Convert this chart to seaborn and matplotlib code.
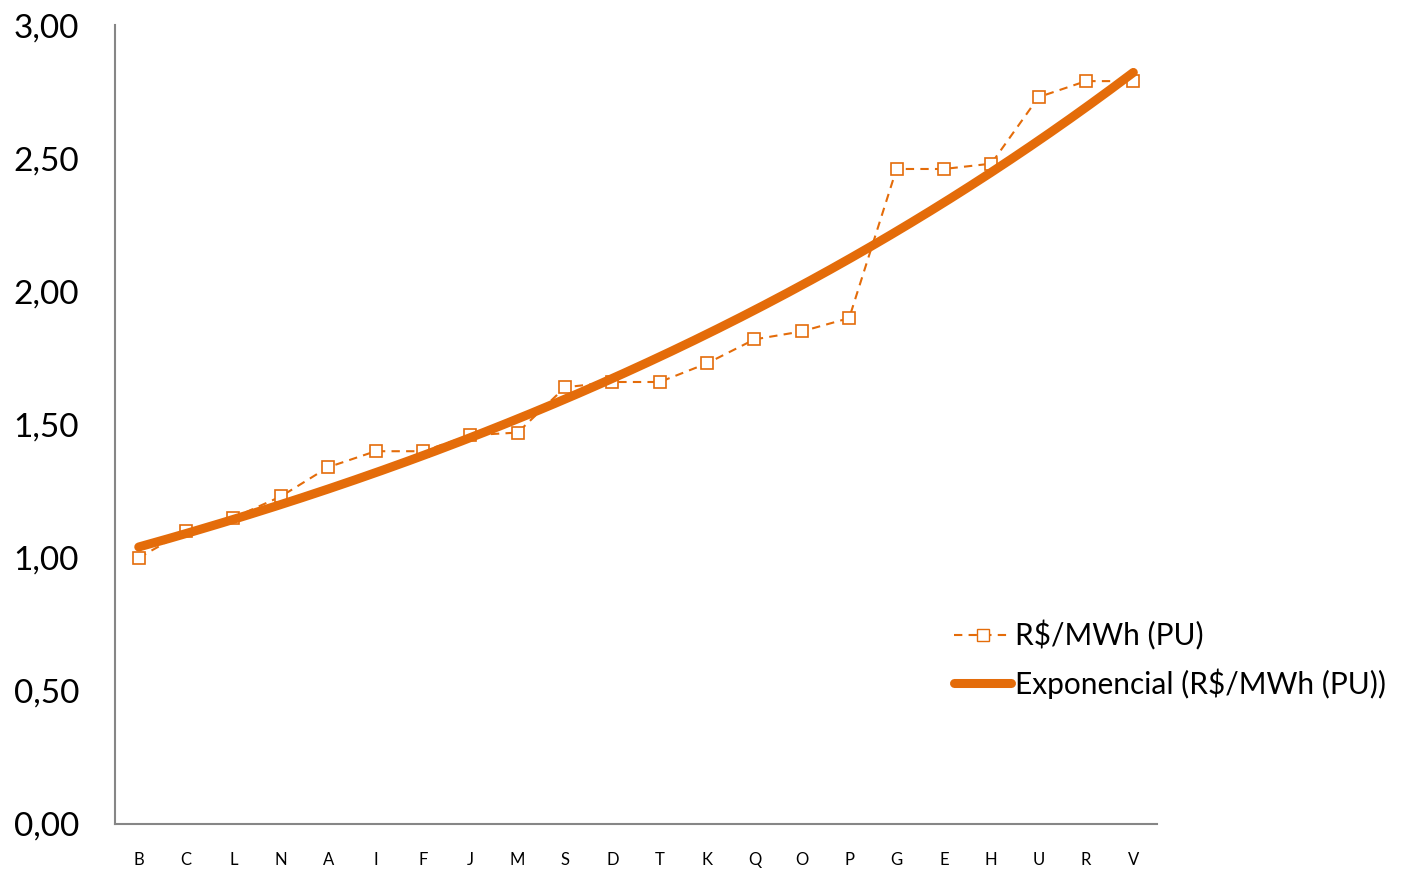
import numpy as np
import pandas as pd
import matplotlib
matplotlib.use("Agg")
import matplotlib.pyplot as plt
import seaborn as sns
from matplotlib.lines import Line2D
from matplotlib.ticker import FuncFormatter

# Data
categories = ["B", "C", "L", "N", "A", "I", "F", "J", "M", "S", "D",
              "T", "K", "Q", "O", "P", "G", "E", "H", "U", "R", "V"]
values = [1.00, 1.10, 1.15, 1.23, 1.34, 1.40, 1.40, 1.46, 1.47, 1.64, 1.66,
          1.66, 1.73, 1.82, 1.85, 1.90, 2.46, 2.46, 2.48, 2.73, 2.79, 2.79]
series_label = "R$/MWh (PU)"
trend_label = "Exponencial (R$/MWh (PU))"

ORANGE = "#E46C0A"
GRAY = "#868686"

sns.set_style("white")
plt.rcParams["font.family"] = ["Lato", "DejaVu Sans"]
plt.rcParams["text.color"] = "black"
plt.rcParams["xtick.color"] = "black"
plt.rcParams["ytick.color"] = "black"

df = pd.DataFrame({"pos": np.arange(len(categories)), "cat": categories, "val": values})

# exponential trendline, fitted like Excel (least squares on ln y, x = 1..n)
xk = np.arange(1, len(values) + 1)
b, ln_a = np.polyfit(xk, np.log(values), 1)
xs = np.linspace(1, len(values), 300)
trend = pd.DataFrame({"pos": xs - 1, "val": np.exp(ln_a) * np.exp(b * xs)})

fig = plt.figure(figsize=(14.05, 8.69), dpi=100)
ax = fig.add_axes([0.0819, 0.0518, 0.7416, 0.9192])

sns.lineplot(data=df, x="pos", y="val", ax=ax, color=ORANGE, lw=1.5,
             linestyle=(0, (4, 3)), marker="s", markersize=8,
             markerfacecolor="white", markeredgecolor=ORANGE, markeredgewidth=1.2,
             zorder=2)
sns.lineplot(data=trend, x="pos", y="val", ax=ax, color=ORANGE, lw=6.5,
             solid_capstyle="round", zorder=3)

ax.set_xlim(-0.5, len(categories) - 0.5)
ax.set_ylim(0, 3)
ax.set_yticks(np.arange(0, 3.01, 0.5))
ax.yaxis.set_major_formatter(FuncFormatter(lambda v, p: f"{v:.2f}".replace(".", ",")))
ax.set_xticks(np.arange(-0.5, len(categories), 1.0))
ax.set_xticklabels([])
ax.set_xticks(np.arange(len(categories)), minor=True)
ax.set_xticklabels(categories, minor=True)
ax.tick_params(axis="x", which="minor", length=0, pad=20, labelsize=12)
ax.tick_params(axis="x", which="major", length=6, width=1.2, color=GRAY, direction="out")
ax.tick_params(axis="y", length=8, width=1.2, color=GRAY, direction="out",
               labelsize=24, pad=18)
ax.set_xlabel("")
ax.set_ylabel("")

for s in ["top", "right"]:
    ax.spines[s].set_visible(False)
for s in ["left", "bottom"]:
    ax.spines[s].set_color(GRAY)
    ax.spines[s].set_linewidth(1.5)

handles = [
    Line2D([], [], color=ORANGE, lw=1.5, linestyle=(0, (4, 3)), marker="s",
           markersize=8, markerfacecolor="white", markeredgecolor=ORANGE),
    Line2D([], [], color=ORANGE, lw=6.5, solid_capstyle="round"),
]
fig.legend(handles, [series_label, trend_label], loc="center left",
           bbox_to_anchor=(0.660, 0.241), frameon=False, fontsize=21.5,
           handlelength=1.9, handletextpad=0.15, labelspacing=0.6)

fig.savefig("out.png", dpi=100)
